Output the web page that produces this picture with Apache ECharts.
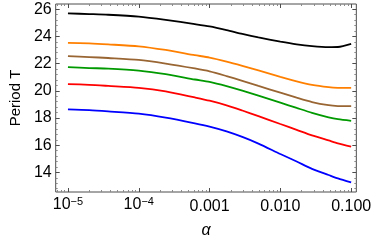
<!DOCTYPE html>
<html><head><meta charset="utf-8">
<script src="https://cdn.jsdelivr.net/npm/echarts@6/dist/echarts.min.js"></script>
<style>html,body{margin:0;padding:0;background:#fff}#c{width:374px;height:244px}</style>
</head><body><div id="c"></div>
<script>
const alpha = [1e-5, 2e-5, 3.7e-5, 1e-4, 2.4e-4, 6.2e-4, 1e-3, 1.74e-3, 2.9e-3, 4.9e-3, 1e-2, 1.7e-2, 2.8e-2, 4.8e-2, 6.5e-2, 0.1];
const blackT  = [25.69, 25.64, 25.59, 25.45, 25.21, 24.90, 24.73, 24.46, 24.18, 23.92, 23.61, 23.41, 23.28, 23.21, 23.22, 23.45];
const orangeT = [23.52, 23.48, 23.41, 23.27, 23.00, 22.62, 22.44, 22.15, 21.84, 21.50, 21.03, 20.70, 20.44, 20.27, 20.22, 20.21];
const brownT  = [22.55, 22.48, 22.41, 22.27, 22.00, 21.64, 21.43, 21.08, 20.73, 20.36, 19.86, 19.49, 19.17, 18.94, 18.88, 18.87];
const greenT  = [21.74, 21.67, 21.63, 21.48, 21.22, 20.83, 20.65, 20.34, 20.01, 19.64, 19.13, 18.74, 18.38, 18.05, 17.91, 17.79];
const redT    = [20.49, 20.44, 20.36, 20.22, 19.96, 19.51, 19.27, 18.93, 18.55, 18.14, 17.56, 17.13, 16.72, 16.35, 16.14, 15.90];
const blueT   = [18.63, 18.58, 18.49, 18.32, 18.03, 17.61, 17.37, 17.02, 16.61, 16.12, 15.35, 14.80, 14.26, 13.81, 13.56, 13.26];
const xTicks = [1e-5, 1e-4, 1e-3, 1e-2, 1e-1];
const xTickLabels = ['10^-5', '10^-4', '0.001', '0.010', '0.100'];
const yTicks = [14, 16, 18, 20, 22, 24, 26];

const X_MIN = Math.pow(10, -5.173), X_MAX = Math.pow(10, -0.927);
const Y_MIN = 12.56, Y_MAX = 26.38;

const xMinor = [];
for (let d = -6; d <= -1; d++) for (let k = 2; k <= 9; k++) {
  const v = k * Math.pow(10, d);
  if (v > X_MIN && v < X_MAX) xMinor.push(v);
}
const yMinor = [];
for (let i = 0; i <= 40; i++) {
  const v = Math.round((12.8 + i * 0.4) * 10) / 10;
  const isMajor = Math.abs(v - Math.round(v)) < 1e-6 && Math.round(v) % 2 === 0;
  if (v < Y_MAX && !isMajor) yMinor.push(v);
}

const FONT = 'Liberation Sans';
const frame = '#4d4d4d';
const tickCol = '#8a8a8a';

function xLabel(v) {
  let best = 0, bd = 1e9;
  xTicks.forEach((t, i) => { const d = Math.abs(Math.log10(v) - Math.log10(t)); if (d < bd) { bd = d; best = i; } });
  const s = xTickLabels[best];
  if (s.indexOf('^') >= 0) {
    const p = s.split('^');
    return '{b|' + p[0] + '}{s|' + p[1].replace('-', '\u2212') + '}';
  }
  return '{p|' + s + '}';
}

function xAxisDef(pos, major, withLabel) {
  return {
    type: 'log', position: pos, min: X_MIN, max: X_MAX, logBase: 10,
    axisLine: { show: false }, splitLine: { show: false },
    axisTick: { show: true, inside: true, length: major ? 4 : 2, customValues: major ? xTicks : xMinor,
      lineStyle: { color: major ? frame : tickCol, width: 1 } },
    axisLabel: withLabel ? {
      show: true, customValues: xTicks, margin: 4, formatter: xLabel,
      rich: {
        b: { fontFamily: FONT, fontSize: 16, color: '#000', lineHeight: 17, verticalAlign: 'bottom' },
        s: { fontFamily: FONT, fontSize: 11, color: '#000', lineHeight: 12, verticalAlign: 'top', padding: [0, 0, 9, 0] },
        p: { fontFamily: FONT, fontSize: 16, color: '#000', lineHeight: 17, padding: [4, 0, 0, 0] }
      }
    } : { show: false },
    name: withLabel ? 'α' : '', nameLocation: 'middle', nameGap: 31,
    nameTextStyle: { fontFamily: FONT, fontSize: 16, fontStyle: 'italic', color: '#000' }
  };
}
function yAxisDef(pos, major, withLabel) {
  return {
    type: 'value', position: pos, min: Y_MIN, max: Y_MAX,
    axisLine: { show: false }, splitLine: { show: false },
    axisTick: { show: true, inside: true, length: major ? 4 : 2, customValues: major ? yTicks : yMinor,
      lineStyle: { color: major ? frame : tickCol, width: 1 } },
    axisLabel: withLabel ? { show: true, customValues: yTicks, margin: 4, fontFamily: FONT, fontSize: 16, color: '#000' } : { show: false },
    name: withLabel ? 'Period T' : '', nameLocation: 'middle', nameGap: 32,
    nameTextStyle: { fontFamily: FONT, fontSize: 15, color: '#000' }
  };
}

const colors = ['#000000', '#ff8000', '#996633', '#009a00', '#ff0000', '#0000ff'];
const sets = [blackT, orangeT, brownT, greenT, redT, blueT];

const chart = echarts.init(document.getElementById('c'), null, { renderer: 'canvas' });
chart.setOption({
  animation: false,
  grid: { left: 45, right: 15, top: 4, bottom: 47, show: true, borderColor: frame, borderWidth: 1, backgroundColor: 'transparent' },
  xAxis: [xAxisDef('bottom', true, true), xAxisDef('bottom', false, false), xAxisDef('top', true, false), xAxisDef('top', false, false)],
  yAxis: [yAxisDef('left', true, true), yAxisDef('left', false, false), yAxisDef('right', true, false), yAxisDef('right', false, false)],
  series: sets.map((d, i) => ({
    type: 'line', xAxisIndex: 0, yAxisIndex: 0, smooth: 0.25, showSymbol: false,
    lineStyle: { color: colors[i], width: 1.8 }, itemStyle: { color: colors[i] },
    data: alpha.map((a, j) => [a, d[j]])
  }))
});
</script></body></html>
